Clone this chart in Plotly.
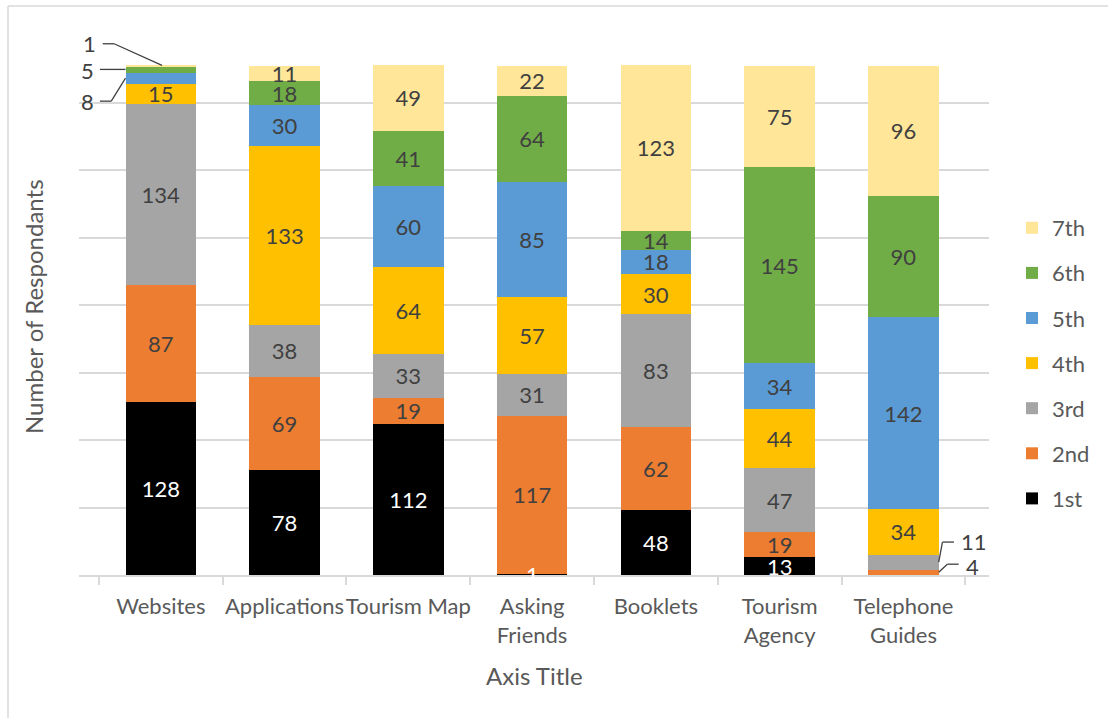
import plotly.graph_objects as go

# Survey: how respondents ranked each source of tourism information (1st .. 7th)
sources = ["Websites", "Applications", "Tourism Map", "Asking<br>Friends",
           "Booklets", "Tourism<br>Agency", "Telephone<br>Guides"]

rank_1st = [128, 78, 112, 1, 48, 13, 0]
rank_2nd = [87, 69, 19, 117, 62, 19, 4]
rank_3rd = [134, 38, 33, 31, 83, 47, 11]
rank_4th = [15, 133, 64, 57, 30, 44, 34]
rank_5th = [8, 30, 60, 85, 18, 34, 142]
rank_6th = [5, 18, 41, 64, 14, 145, 90]
rank_7th = [1, 11, 49, 22, 123, 75, 96]

rank_names = ["1st", "2nd", "3rd", "4th", "5th", "6th", "7th"]
rank_values = [rank_1st, rank_2nd, rank_3rd, rank_4th, rank_5th, rank_6th, rank_7th]
rank_colors = ["#000000", "#ED7D31", "#A5A5A5", "#FFC000", "#5B9BD5", "#70AD47", "#FFE699"]

# segments whose value is written beside the bar with a leader line instead of inside it
callouts = {(0, 6), (0, 5), (0, 4), (6, 1), (6, 2)}   # (source index, rank index)

FONT = "Lato"
TEXT_GREY = "#595959"
LABEL_GREY = "#404040"
GRID = "#D9D9D9"

fig = go.Figure()
for r, (name, vals, col) in enumerate(zip(rank_names, rank_values, rank_colors)):
    labels = []
    for i, v in enumerate(vals):
        if v == 0 or (i, r) in callouts:
            labels.append("")
        else:
            labels.append(str(v))
    fig.add_trace(go.Bar(
        name=name, x=sources, y=vals, marker_color=col, marker_line_width=0,
        text=labels, textposition="inside", insidetextanchor="middle",
        constraintext="none", textangle=0, cliponaxis=True,
        textfont=dict(family=FONT, size=22,
                      color="#FFFFFF" if r == 0 else LABEL_GREY),
        legendgroup=name, legendrank=len(rank_names) - r,
        hoverinfo="x+y+name",
    ))

# leader-line labels for the thin segments (positions in category index / value units)
def cum_mid(i, r):
    below = sum(rank_values[k][i] for k in range(r))
    return below + rank_values[r][i] / 2

half = 0.285
leaders = [
    # (label, text x, text y, polyline points)
    (str(rank_7th[0]), -0.577, 393.5,
     [(-0.469, 393.5), (-0.377, 393.5), (0.01, cum_mid(0, 6))]),
    (str(rank_6th[0]), -0.592, 373.5,
     [(-0.492, cum_mid(0, 5)), (-half, cum_mid(0, 5))]),
    (str(rank_5th[0]), -0.592, 351.0,
     [(-0.492, 351.0), (-0.40, 351.0), (-half, cum_mid(0, 4))]),
    (str(rank_3rd[6]), 6.57, 24.5,
     [(6.408, 24.4), (6.315, 24.4), (6 + half, cum_mid(6, 2))]),
    (str(rank_2nd[6]), 6.56, 6.0,
     [(6.446, 8.0), (6.354, 8.0), (6 + half, cum_mid(6, 1))]),
]
shapes = []
annotations = []
for text, tx, ty, pts in leaders:
    for (xa, ya), (xb, yb) in zip(pts[:-1], pts[1:]):
        shapes.append(dict(type="line", xref="x", yref="y", x0=xa, y0=ya, x1=xb, y1=yb,
                           line=dict(color=LABEL_GREY, width=1.3), layer="above"))
    annotations.append(dict(text=text, x=tx, y=ty, xref="x", yref="y", showarrow=False,
                            xanchor="center", yanchor="middle",
                            font=dict(family=FONT, size=22, color=LABEL_GREY)))

# the 1-respondent "1st" segment of Asking Friends: label centred on the sliver
annotations.append(dict(text=str(rank_1st[3]), x=3, y=rank_1st[3] / 2, xref="x", yref="y",
                        showarrow=False, xanchor="center", yanchor="middle",
                        font=dict(family=FONT, size=22, color="#FFFFFF")))

# chart frame (left and top edges)
fx = (8 - 79) / 910
fy = (575 - 6) / 540
shapes.append(dict(type="line", xref="paper", yref="paper", x0=fx, y0=fy, x1=fx, y1=-0.4,
                   line=dict(color=GRID, width=1.5)))
shapes.append(dict(type="line", xref="paper", yref="paper", x0=fx, y0=fy, x1=1.2, y1=fy,
                   line=dict(color=GRID, width=1.5)))

# axis titles
annotations.append(dict(text="Number of Respondants", textangle=-90, xref="paper", yref="paper",
                        x=(33 - 79) / 910, y=(575 - 307) / 540, showarrow=False,
                        xanchor="center", yanchor="middle",
                        font=dict(family=FONT, size=24, color=TEXT_GREY)))
annotations.append(dict(text="Axis Title", xref="paper", yref="paper",
                        x=0.5, y=(575 - 675) / 540, showarrow=False,
                        xanchor="center", yanchor="middle",
                        font=dict(family=FONT, size=24, color=TEXT_GREY)))

fig.update_layout(
    width=1108, height=718,
    margin=dict(l=79, r=119, t=35, b=143, autoexpand=False),
    barmode="stack", bargap=0.43,
    paper_bgcolor="#FFFFFF", plot_bgcolor="#FFFFFF",
    font=dict(family=FONT, size=22, color=TEXT_GREY),
    showlegend=True,
    legend=dict(traceorder="grouped", tracegroupgap=13.5,
                x=(1012 - 79) / 910, xanchor="left", y=(575 - 207) / 540, yanchor="top",
                font=dict(family=FONT, size=22, color=TEXT_GREY),
                bgcolor="rgba(0,0,0,0)"),
    xaxis=dict(showline=True, linecolor=GRID, linewidth=1.5,
               ticks="outside", tickson="boundaries", ticklen=8, tickcolor=GRID, tickwidth=1.5,
               tickangle=0, ticklabelstandoff=11,
               tickfont=dict(family=FONT, size=22, color=TEXT_GREY),
               showgrid=False, automargin=False),
    yaxis=dict(range=[0, 400], dtick=50, showgrid=True, gridcolor=GRID, gridwidth=1.5,
               showticklabels=False, showline=False, zeroline=False, ticks="",
               automargin=False),
    shapes=shapes, annotations=annotations,
)

fig.write_html("out.html")
